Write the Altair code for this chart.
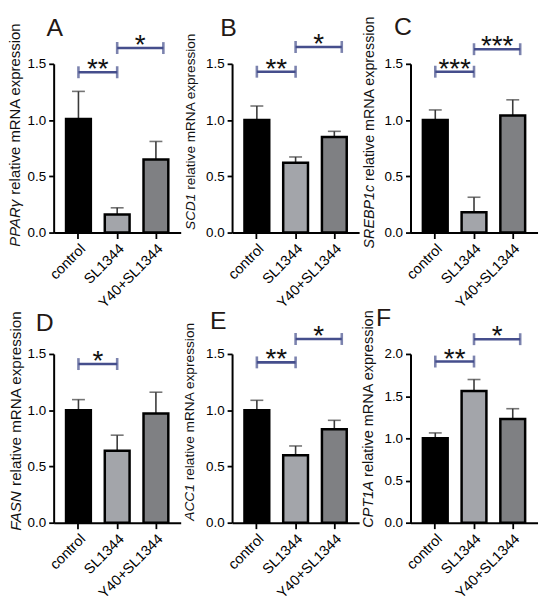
import altair as alt
import pandas as pd

FONT = "Liberation Sans, Arial, sans-serif"

GROUPS = ["control", "SL1344", "Y40+SL1344"]
BAR_COLORS = ["#000000", "#A3A5AA", "#7F8083"]
BRACKET_COLOR = "#454E8C"

LETTERS = ["A", "B", "C", "D", "E", "F"]
GENES = ["PPARγ", "SCD1", "SREBP1c", "FASN", "ACC1", "CPT1A"]
YMAX = [1.5, 1.5, 1.5, 1.5, 1.5, 2.0]

MEAN_A = [1.01, 0.16, 0.65]
ERR_A = [0.245, 0.06, 0.16]
MEAN_B = [1.00, 0.62, 0.85]
ERR_B = [0.125, 0.052, 0.05]
MEAN_C = [1.00, 0.18, 1.04]
ERR_C = [0.09, 0.134, 0.14]
MEAN_D = [1.00, 0.64, 0.97]
ERR_D = [0.094, 0.138, 0.19]
MEAN_E = [1.00, 0.60, 0.83]
ERR_E = [0.088, 0.082, 0.08]
MEAN_F = [1.00, 1.56, 1.23]
ERR_F = [0.064, 0.137, 0.121]

MEANS = [MEAN_A, MEAN_B, MEAN_C, MEAN_D, MEAN_E, MEAN_F]
ERRS = [ERR_A, ERR_B, ERR_C, ERR_D, ERR_E, ERR_F]

# significance brackets: (from, to, height, label)
BR_A = [("control", "SL1344", 1.425, "**"), ("SL1344", "Y40+SL1344", 1.64, "*")]
BR_B = [("control", "SL1344", 1.43, "**"), ("SL1344", "Y40+SL1344", 1.65, "*")]
BR_C = [("control", "SL1344", 1.43, "***"), ("SL1344", "Y40+SL1344", 1.63, "***")]
BR_D = [("control", "SL1344", 1.41, "*")]
BR_E = [("control", "SL1344", 1.425, "**"), ("SL1344", "Y40+SL1344", 1.633, "*")]
BR_F = [("control", "SL1344", 1.91, "**"), ("SL1344", "Y40+SL1344", 2.175, "*")]
BRACKETS = [BR_A, BR_B, BR_C, BR_D, BR_E, BR_F]

# styling per panel
TITLE_FS = [15, 13.7, 14.4, 15.3, 13.8, 14.6]
TITLE_BOTTOM = [184.3, 167.3, 186, 178, 168, 175]
TITLE_X = [-38.5, -41, -41, -38, -42, -42]
LETTER_DX = [1, -3.5, -7.5, -9, -14, -27]
LETTER_DY = [-27.7, -27.7, -29.5, -23, -25, -28]

W, H = 128, 170
PI, PO = 0.36, 0.32
STEP = W / (len(GROUPS) - PI + 2 * PO)
EXTRA = 7.5  # second bracket reaches a bit past the last bar

CHAR_W = {"P": .667, "A": .667, "R": .722, "γ": .5, "S": .667, "C": .722, "D": .722,
          "1": .556, "E": .667, "B": .667, "c": .5, "F": .611, "N": .722, "T": .611}


def text_w(s, fs):
    return sum(CHAR_W.get(ch, 0.6) for ch in s) * fs


def xenc(field):
    return alt.X(field, type="nominal", sort=GROUPS, title=None,
                 scale=alt.Scale(domain=GROUPS, paddingInner=PI, paddingOuter=PO))


def panel(i):
    means, errs, ymax = MEANS[i], ERRS[i], YMAX[i]
    df = pd.DataFrame({"group": GROUPS, "mean": means,
                       "top": [m + e for m, e in zip(means, errs)]})
    ticks = [0, 0.5, 1.0, 1.5] if ymax == 1.5 else [0, 0.5, 1.0, 1.5, 2.0]
    x = alt.X("group:N", sort=GROUPS,
              scale=alt.Scale(domain=GROUPS, paddingInner=PI, paddingOuter=PO),
              axis=alt.Axis(title=None, labelAngle=-45, labelFontSize=14.5, labelPadding=3,
                            tickSize=6, domainWidth=2))
    y = alt.Y("mean:Q", scale=alt.Scale(domain=[0, ymax], nice=False, zero=True),
              axis=alt.Axis(title=None, values=ticks, format=".1f", labelFontSize=13.5,
                            tickSize=5, labelPadding=3))
    base = alt.Chart(df)
    err = base.mark_rule(color="#3a3a3a", strokeWidth=1.6).encode(
        x=x, y=y, y2="top:Q")
    cap = base.mark_tick(color="#3a3a3a", thickness=1.6, size=13, orient="horizontal").encode(
        x=xenc("group"), y=alt.Y("top:Q", title=None))
    bars = base.mark_bar(stroke="black", strokeWidth=2.5).encode(
        x=xenc("group"), y=alt.Y("mean:Q", title=None),
        color=alt.Color("group:N", scale=alt.Scale(domain=GROUPS, range=BAR_COLORS), legend=None))

    br = pd.DataFrame(BRACKETS[i], columns=["from", "to", "y", "label"])
    last = GROUPS[-1]
    layers = [err, cap, bars]
    for is_last in (False, True):
        sub = br[(br["to"] == last) == is_last]
        if len(sub) == 0:
            continue
        off = EXTRA if is_last else 0
        bc = alt.Chart(sub)
        layers.append(bc.mark_rule(color=BRACKET_COLOR, strokeWidth=2.6, x2Offset=off).encode(
            x=alt.X("from", type="nominal", sort=GROUPS, title=None, bandPosition=0.5,
                    scale=alt.Scale(domain=GROUPS, paddingInner=PI, paddingOuter=PO)),
            x2=alt.X2("to", bandPosition=0.5),
            y=alt.Y("y:Q", title=None)))
        layers.append(bc.mark_tick(color=BRACKET_COLOR, thickness=2.6, size=12, orient="vertical").encode(
            x=xenc("from"), y=alt.Y("y:Q", title=None)))
        layers.append(bc.mark_tick(color=BRACKET_COLOR, thickness=2.6, size=12, orient="vertical",
                                   xOffset=off).encode(
            x=xenc("to"), y=alt.Y("y:Q", title=None)))
        layers.append(bc.mark_text(font=FONT, fontSize=28, color="#111111", baseline="alphabetic",
                                   align="center", dx=STEP / 2 + off / 2, dy=6).encode(
            x=xenc("from"), y=alt.Y("y:Q", title=None), text="label:N"))

    gene = GENES[i]
    fs = TITLE_FS[i]
    gw = text_w(gene, fs)
    tdf = pd.DataFrame({"gene": [gene], "rest": ["relative mRNA expression"],
                        "letter": [LETTERS[i]]})
    tc = alt.Chart(tdf)
    layers.append(tc.mark_text(font=FONT, fontSize=fs, fontStyle="italic", angle=270,
                               align="left", baseline="middle", color="#111111").encode(
        text="gene:N", x=alt.value(TITLE_X[i]), y=alt.value(TITLE_BOTTOM[i])))
    layers.append(tc.mark_text(font=FONT, fontSize=fs, angle=270, align="left",
                               baseline="middle", color="#111111").encode(
        text="rest:N", x=alt.value(TITLE_X[i]),
        y=alt.value(TITLE_BOTTOM[i] - gw - 0.278 * fs)))
    layers.append(tc.mark_text(font=FONT, fontSize=25, align="center", baseline="alphabetic",
                               color="#231815").encode(
        text="letter:N", x=alt.value(LETTER_DX[i]), y=alt.value(LETTER_DY[i])))

    return alt.layer(*layers).properties(width=W, height=H)


chart = alt.concat(*[panel(i) for i in range(6)], columns=3,
                   spacing={"row": 122.3, "column": 51.75}, bounds="flush").properties(
    padding={"left": 0, "top": 4, "right": 4, "bottom": 4}
).configure_view(stroke=None).configure_axis(
    grid=False, domainColor="black", domainWidth=2, tickColor="black", tickWidth=1.8,
    labelColor="black", labelFont=FONT
)

chart.save("out.html", embed_options={"renderer": "svg", "actions": False})
